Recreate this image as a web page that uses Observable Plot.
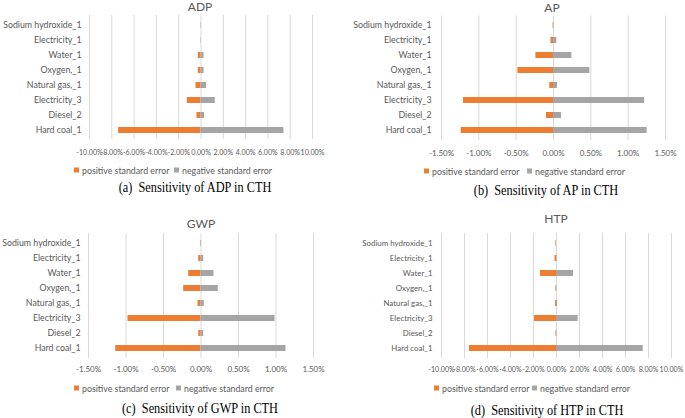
<!DOCTYPE html>
<html>
<head>
<meta charset="utf-8">
<script src="https://cdn.jsdelivr.net/npm/d3@7"></script>
<script src="https://cdn.jsdelivr.net/npm/@observablehq/plot@0.6"></script>
<style>
  html, body { margin: 0; padding: 0; background: #fff; }
  #root { position: relative; width: 685px; height: 418px; overflow: hidden; font-family: Lato, sans-serif; color: #595959; }
  .abs { position: absolute; white-space: pre; }
  .title { font-size: 12px; transform: translate(-50%, -50%); }
  .leg { font-size: 8.8px; transform: translateY(-50%); display: flex; align-items: center; }
  .sq { display: inline-block; width: 5px; height: 5px; margin-right: 3px; }
  .cap { font-family: "Liberation Serif", serif; font-size: 15px; color: #000; transform: translate(-50%, -50%) scaleX(0.82); }
</style>
</head>
<body>
<div id="root"></div>
<script>
// Categories (top to bottom)
const categories = ["Sodium hydroxide_1", "Electricity_1", "Water_1", "Oxygen,_1", "Natural gas,_1", "Electricity_3", "Diesel_2", "Hard coal_1"];

// Values in percent
const adpPositive = [0.01, 0.01, 0.24, 0.24, 0.45, 1.23, 0.36, 7.39];
const adpNegative = [0.03, 0.03, 0.27, 0.27, 0.50, 1.28, 0.32, 7.44];
const apPositive  = [0.005, 0.035, 0.236, 0.477, 0.05, 1.205, 0.094, 1.236];
const apNegative  = [0.008, 0.045, 0.246, 0.487, 0.054, 1.22, 0.107, 1.254];
const gwpPositive = [0.005, 0.031, 0.164, 0.231, 0.04, 0.973, 0.03, 1.137];
const gwpNegative = [0.005, 0.036, 0.173, 0.231, 0.044, 0.987, 0.036, 1.133];
const htpPositive = [0.05, 0.13, 1.39, 0.05, 0.08, 1.91, 0.05, 7.57];
const htpNegative = [0.0, 0.05, 1.48, 0.03, 0.10, 1.88, 0.03, 7.54];

// Tick labels
const ticksTen = [-10, -8, -6, -4, -2, 0, 2, 4, 6, 8, 10];
const ticksOneHalf = [-1.5, -1.0, -0.5, 0, 0.5, 1.0, 1.5];

const titles = ["ADP", "AP", "GWP", "HTP"];
const captions = ["(a)  Sensitivity of ADP in CTH", "(b)  Sensitivity of AP in CTH", "(c)  Sensitivity of GWP in CTH", "(d)  Sensitivity of HTP in CTH"];
const legendLabels = ["positive standard error", "negative standard error"];
const colors = ["#ED7D31", "#A5A5A5"];

const root = document.getElementById("root");

function addDiv(cls, x, y, html) {
  const d = document.createElement("div");
  d.className = "abs " + cls;
  d.style.left = x + "px";
  d.style.top = y + "px";
  d.innerHTML = html;
  root.appendChild(d);
  return d;
}

function panel(o) {
  const rows = categories.map((c, i) => ({cat: c, pos: o.pos[i], neg: o.neg[i]}));
  const svg = Plot.plot({
    width: o.width, height: o.height,
    marginLeft: o.mL, marginRight: o.mR, marginTop: o.mT, marginBottom: o.mB,
    style: {background: "transparent", fontFamily: "Lato, sans-serif", color: "#595959", overflow: "visible"},
    x: {domain: o.domain},
    y: {domain: categories, paddingInner: 0.6, paddingOuter: 0.3},
    marks: [
      Plot.gridX(o.ticks, {stroke: "#D9D9D9", strokeOpacity: 1}),
      Plot.barX(rows, {y: "cat", x1: 0, x2: d => -d.pos, fill: colors[0]}),
      Plot.barX(rows, {y: "cat", x1: 0, x2: d => d.neg, fill: colors[1]}),
      Plot.axisX(o.ticks, {tickSize: 0, tickPadding: o.xPad, fontSize: o.xFont, label: null, tickFormat: d => d.toFixed(2) + "%"}),
      Plot.axisY({tickSize: 0, tickPadding: o.yPad, fontSize: o.yFont, label: null})
    ]
  });
  svg.style.position = "absolute";
  svg.style.left = o.left + "px";
  svg.style.top = o.top + "px";
  root.appendChild(svg);
  addDiv("title", o.titleX, o.titleY, o.title);
  addDiv("leg", o.legX[0], o.legY, `<span class="sq" style="background:${colors[0]}"></span>${legendLabels[0]}`);
  addDiv("leg", o.legX[1], o.legY, `<span class="sq" style="background:${colors[1]}"></span>${legendLabels[1]}`);
  addDiv("cap", o.capX, o.capY, o.caption);
}

panel({left: 0, top: 0, width: 340, height: 165, mL: 89, mR: 28, mT: 15, mB: 26,
  domain: [-10, 10], ticks: ticksTen, pos: adpPositive, neg: adpNegative,
  xPad: 10, xFont: 7.1, yPad: 8, yFont: 8.8,
  title: titles[0], titleX: 200, titleY: 6, legX: [74, 174], legY: 170, caption: captions[0], capX: 195, capY: 187});

panel({left: 345, top: 0, width: 340, height: 165, mL: 96, mR: 20, mT: 15.5, mB: 25,
  domain: [-1.5, 1.5], ticks: ticksOneHalf, pos: apPositive, neg: apNegative,
  xPad: 10, xFont: 8, yPad: 10, yFont: 8.8,
  title: titles[1], titleX: 552, titleY: 7, legX: [424, 527], legY: 171, caption: captions[1], capX: 546, capY: 190});

panel({left: 0, top: 210, width: 340, height: 175, mL: 88, mR: 27, mT: 23, mB: 27,
  domain: [-1.5, 1.5], ticks: ticksOneHalf, pos: gwpPositive, neg: gwpNegative,
  xPad: 8, xFont: 8, yPad: 8, yFont: 8.8,
  title: titles[2], titleX: 201, titleY: 223, legX: [74, 176], legY: 388, caption: captions[2], capX: 200, capY: 408});

panel({left: 345, top: 210, width: 340, height: 175, mL: 96, mR: 14, mT: 23, mB: 27,
  domain: [-10, 10], ticks: ticksTen, pos: htpPositive, neg: htpNegative,
  xPad: 8, xFont: 7.1, yPad: 9, yFont: 7.9,
  title: titles[3], titleX: 556, titleY: 218, legX: [434, 532], legY: 388, caption: captions[3], capX: 547, capY: 410});
</script>
</body>
</html>
